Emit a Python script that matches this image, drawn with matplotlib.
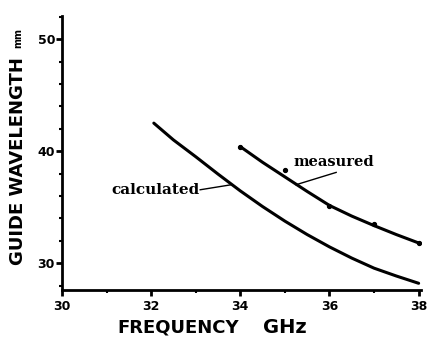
import matplotlib.pyplot as plt
from matplotlib.ticker import MultipleLocator

# values
calc_freq = [32.06, 32.5, 33.0, 33.5, 34.0, 34.5, 35.0, 35.5, 36.0, 36.5, 37.0, 37.5, 38.0]
calc_wl = [42.5, 41.0, 39.5, 37.95, 36.45, 35.05, 33.75, 32.55, 31.45, 30.45, 29.55, 28.85, 28.2]

meas_line_freq = [34.0, 34.5, 35.0, 35.5, 36.0, 36.5, 37.0, 37.5, 38.0]
meas_line_wl = [40.4, 39.0, 37.7, 36.4, 35.15, 34.2, 33.35, 32.55, 31.8]

meas_pts_freq = [34, 35, 36, 37, 38]
meas_pts_wl = [40.4, 38.3, 35.1, 33.5, 31.8]

xticks = [30, 32, 34, 36, 38]
yticks = [30, 40, 50]

fig = plt.figure(figsize=(4.35, 3.43), dpi=100)
ax = fig.add_axes([0.1425, 0.1545, 0.825, 0.80])

ax.plot(calc_freq, calc_wl, color='black', lw=2.2,
        solid_capstyle='round', solid_joinstyle='round')
ax.plot(meas_line_freq, meas_line_wl, color='black', lw=2.2,
        solid_capstyle='round', solid_joinstyle='round')
ax.plot(meas_pts_freq, meas_pts_wl, 'o', color='black', ms=2.8)

ax.set_xlim(30, 38.05)
ax.set_ylim(27.6, 52.1)

for s in ['top', 'right']:
    ax.spines[s].set_visible(False)
for s in ['left', 'bottom']:
    ax.spines[s].set_linewidth(2)

ax.set_xticks(xticks)
ax.set_yticks(yticks)
ax.xaxis.set_minor_locator(MultipleLocator(1))
ax.yaxis.set_minor_locator(MultipleLocator(2))
ax.tick_params(which='major', length=4, width=2, labelsize=9)
ax.tick_params(axis='y', which='major', pad=1)
ax.tick_params(which='minor', length=2, width=1.5)
for lab in ax.get_xticklabels() + ax.get_yticklabels():
    lab.set_fontweight('heavy')

# curve labels with leader lines
ax.text(33.08, 36.55, 'calculated', ha='right', va='center',
        family='DejaVu Serif', fontweight='heavy', fontsize=11)
ax.plot([33.1, 33.8], [36.55, 37.0], color='black', lw=1)
ax.text(35.2, 39.0, 'measured', ha='left', va='center',
        family='DejaVu Serif', fontweight='heavy', fontsize=10.5)
ax.plot([36.15, 35.25], [38.1, 37.0], color='black', lw=1)

# axis titles
fig.text(0.27, 0.045, 'FREQUENCY', ha='left', va='center',
         fontsize=13, fontweight='heavy')
fig.text(0.605, 0.045, 'GHz', ha='left', va='center',
         fontsize=14, fontweight='heavy')
fig.text(0.042, 0.53, 'GUIDE WAVELENGTH', rotation=90, ha='center', va='center',
         fontsize=13, fontweight='heavy')
fig.text(0.042, 0.89, 'mm', rotation=90, ha='center', va='center',
         fontsize=7, fontweight='heavy')

fig.savefig('out.png', dpi=100)
